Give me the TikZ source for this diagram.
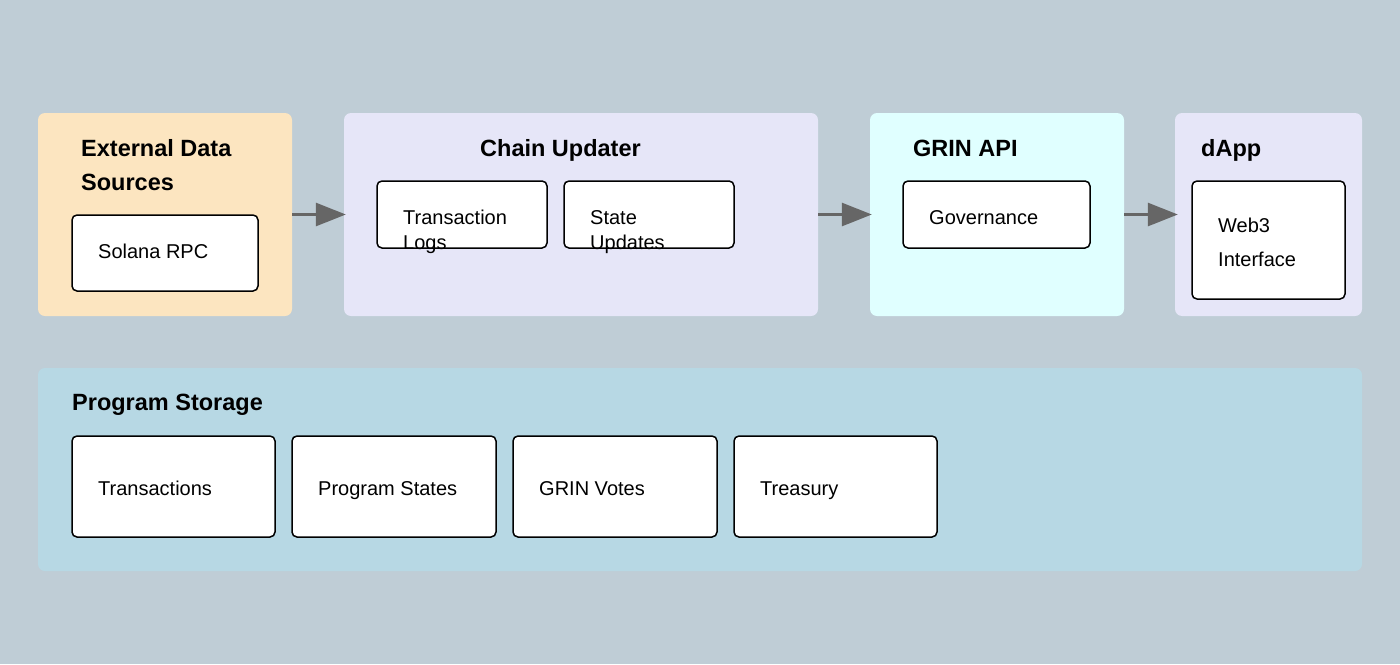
\documentclass[tikz,border=0pt]{standalone}
\usepackage{fontspec}
\setmainfont{Liberation Sans}
\usetikzlibrary{arrows.meta}
\definecolor{bgc}{RGB}{191,205,214}
\definecolor{peach}{RGB}{252,229,192}
\definecolor{lav}{RGB}{230,230,248}
\definecolor{cyanl}{RGB}{224,255,255}
\definecolor{stor}{RGB}{183,216,228}
\definecolor{arr}{RGB}{102,102,102}
\tikzset{
  outerbox/.style={rectangle, rounded corners=7pt, draw=none, inner sep=0pt},
  innerbox/.style={rectangle, rounded corners=5pt, draw=black, line width=1.5pt, fill=white, inner sep=0pt},
  titletext/.style={anchor=base west, inner sep=0pt, font=\fontsize{23.5}{28}\selectfont\bfseries},
  bodytext/.style={anchor=base west, inner sep=0pt, font=\fontsize{20}{24}\selectfont},
  flow/.style={draw=arr, line width=3pt, -{Triangle[length=30pt,width=23pt]}}
}
\begin{document}
\begin{tikzpicture}[x=1pt,y=-1pt]
\useasboundingbox (0,0) rectangle (1400,664);
\fill[bgc] (0,0) rectangle (1400,664);

% outer containers
\node[outerbox, fill=peach, minimum width=254pt, minimum height=203pt] (ext) at (165,214.5) {};
\node[outerbox, fill=lav, minimum width=474pt, minimum height=203pt] (chain) at (581,214.5) {};
\node[outerbox, fill=cyanl, minimum width=254pt, minimum height=203pt] (api) at (997,214.5) {};
\node[outerbox, fill=lav, minimum width=187pt, minimum height=203pt] (dapp) at (1268.5,214.5) {};
\node[outerbox, fill=stor, minimum width=1324pt, minimum height=203pt] (storage) at (700,469.5) {};

% titles
\node[titletext] (extT1) at (81,156) {External Data};
\node[titletext] (extT2) at (81,190) {Sources};
\node[titletext] (chainT) at (480,156) {Chain Updater};
\node[titletext] (apiT) at (913,156) {GRIN API};
\node[titletext] (dappT) at (1201,156) {dApp};
\node[titletext] (storT) at (72,410) {Program Storage};

% inner boxes
\node[innerbox, minimum width=186pt, minimum height=76pt] (rpc) at (165,253) {};
\node[innerbox, minimum width=170pt, minimum height=67pt] (txlogs) at (462,214.5) {};
\node[innerbox, minimum width=170pt, minimum height=67pt] (stupd) at (649,214.5) {};
\node[innerbox, minimum width=187pt, minimum height=67pt] (gov) at (996.5,214.5) {};
\node[innerbox, minimum width=153pt, minimum height=118pt] (web3) at (1268.5,240) {};
\node[innerbox, minimum width=203pt, minimum height=101pt] (tx) at (173.5,486.5) {};
\node[innerbox, minimum width=204pt, minimum height=101pt] (pst) at (394,486.5) {};
\node[innerbox, minimum width=204pt, minimum height=101pt] (votes) at (615,486.5) {};
\node[innerbox, minimum width=203pt, minimum height=101pt] (treas) at (835.5,486.5) {};

% body texts
\node[bodytext] (rpcL) at (98,258) {Solana RPC};
\node[bodytext] (txlogsL1) at (403,224) {Transaction};
\node[bodytext] (txlogsL2) at (403,249) {Logs};
\node[bodytext] (stupdL1) at (590,224) {State};
\node[bodytext] (stupdL2) at (590,249) {Updates};
\node[bodytext] (govL) at (929,224) {Governance};
\node[bodytext] (web3L1) at (1218,232) {Web3};
\node[bodytext] (web3L2) at (1218,266) {Interface};
\node[bodytext] (txL) at (98,495) {Transactions};
\node[bodytext] (pstL) at (318,495) {Program States};
\node[bodytext] (votesL) at (539,495) {GRIN Votes};
\node[bodytext] (treasL) at (760,495) {Treasury};

% arrows
\draw[flow] (ext.east) -- ([xshift=2pt]chain.west);
\draw[flow] (chain.east) -- ([xshift=2pt]api.west);
\draw[flow] (api.east) -- ([xshift=3pt]dapp.west);
\end{tikzpicture}
\end{document}
